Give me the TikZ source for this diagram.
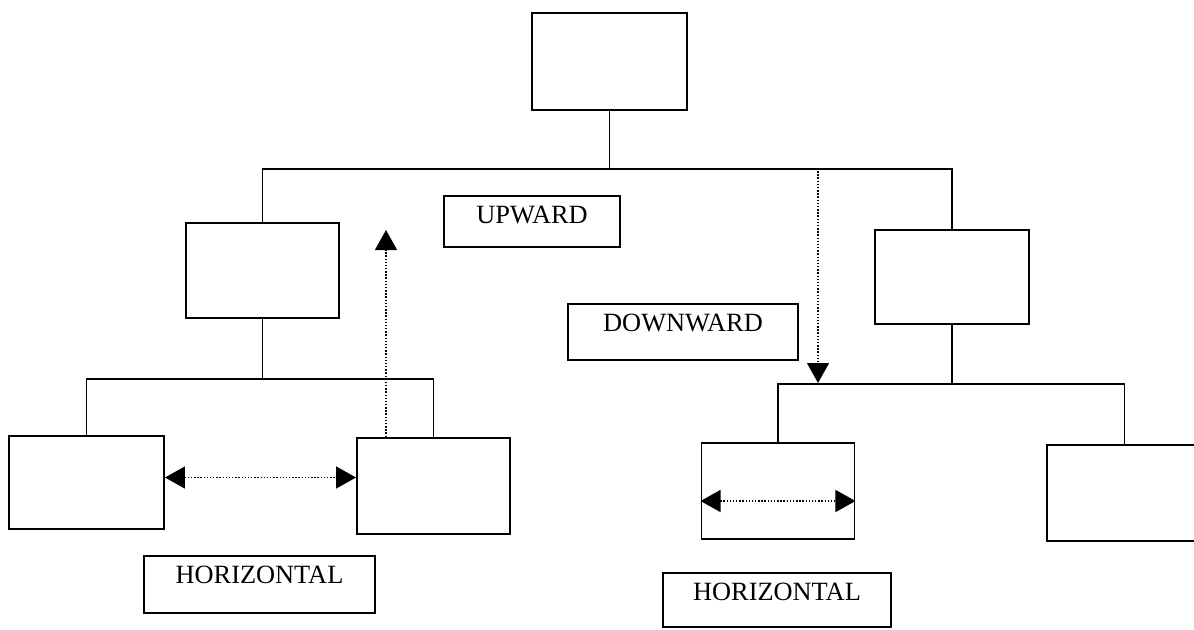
\documentclass[tikz,border=0pt]{standalone}
\usepackage{fontspec}
\setmainfont{Liberation Serif}
\usepackage{tikz}
\usetikzlibrary{arrows.meta,calc,positioning}

\begin{document}
\begin{tikzpicture}[>={Triangle[length=0.4cm,width=0.44cm]},
    blk/.style={draw, line width=1.1pt, inner sep=0pt},
    lbl/.style={draw, line width=1.1pt, inner sep=0pt, text height=0.54cm, font=\fontsize{15}{18}\selectfont},
    flow/.style={<->, densely dotted, thick}]
    \useasboundingbox (0,0) rectangle (23.88,-12.58);
    \node(top) at (12.19,-1.23) [blk, minimum width=3.1cm, minimum height=1.94cm]{};
    \node at (top) [xshift=-6.94cm, yshift=-4.18cm, blk, minimum width=3.06cm, minimum height=1.9cm](lc){};
    \node at (top) [xshift=6.85cm, yshift=-4.31cm, blk, minimum width=3.08cm, minimum height=1.88cm](rc){};
    \node at (lc) [xshift=-3.52cm, yshift=-4.24cm, blk, minimum width=3.1cm, minimum height=1.86cm](ll){};
    \node at (lc) [xshift=3.42cm, yshift=-4.31cm, blk, minimum width=3.06cm, minimum height=1.92cm](lr){};
    \node at (rc) [xshift=-3.48cm, yshift=-4.28cm, blk, minimum width=3.06cm, minimum height=1.92cm](rl){};
    \node at (rc) [xshift=3.45cm, yshift=-4.32cm, blk, minimum width=3.1cm, minimum height=1.92cm](rr){};

    %% Labels
    \node at (top) [xshift=-1.55cm, yshift=-3.2cm, lbl, minimum width=3.52cm, text depth=0.48cm](up){UPWARD};
    \node at (top) [xshift=1.47cm, yshift=-5.41cm, lbl, minimum width=4.6cm, text depth=0.58cm](down){DOWNWARD};
    \node at (ll) [xshift=3.46cm, yshift=-2.04cm, lbl, minimum width=4.62cm, text depth=0.6cm](hl){HORIZONTAL};
    \node at (rl) [xshift=-0.02cm, yshift=-2.18cm, lbl, minimum width=4.56cm, text depth=0.54cm](hr){HORIZONTAL};

    %% Tree lines
    \draw [thick] (top.south) -- ++(0,-1.16) coordinate (tbar);
    \draw [thick] (lc.north) |- (tbar) -| (rc.north);
    \draw [thick] (lc.south) -- ++(0,-1.2) coordinate (lbar);
    \draw [thick] (ll.north) |- (lbar) -| (lr.north);
    \draw [thick] (rc.south) -- ++(0,-1.18) coordinate (rbar);
    \draw [thick] (rl.north) |- (rbar) -| (rr.north);

    %% Arrows
    \coordinate (uptip) at ([xshift=-0.95cm, yshift=4.14cm]lr.north);
    \coordinate (dtop) at (16.36,-3.36);
    \coordinate (dbot) at (16.36,-7.66);
    \draw [flow] ([yshift=0.1cm]ll.east) -- ([yshift=0.1cm]ll.east -| lr.west);
    \draw [flow] ([yshift=-0.2cm]rl.west) -- ([yshift=-0.2cm]rl.east);
    \draw [->, densely dotted, thick] ([xshift=-0.95cm]lr.north) -- (uptip);
    \draw [->, densely dotted, thick] (dtop) -- (dbot);
  \end{tikzpicture}
\end{document}
